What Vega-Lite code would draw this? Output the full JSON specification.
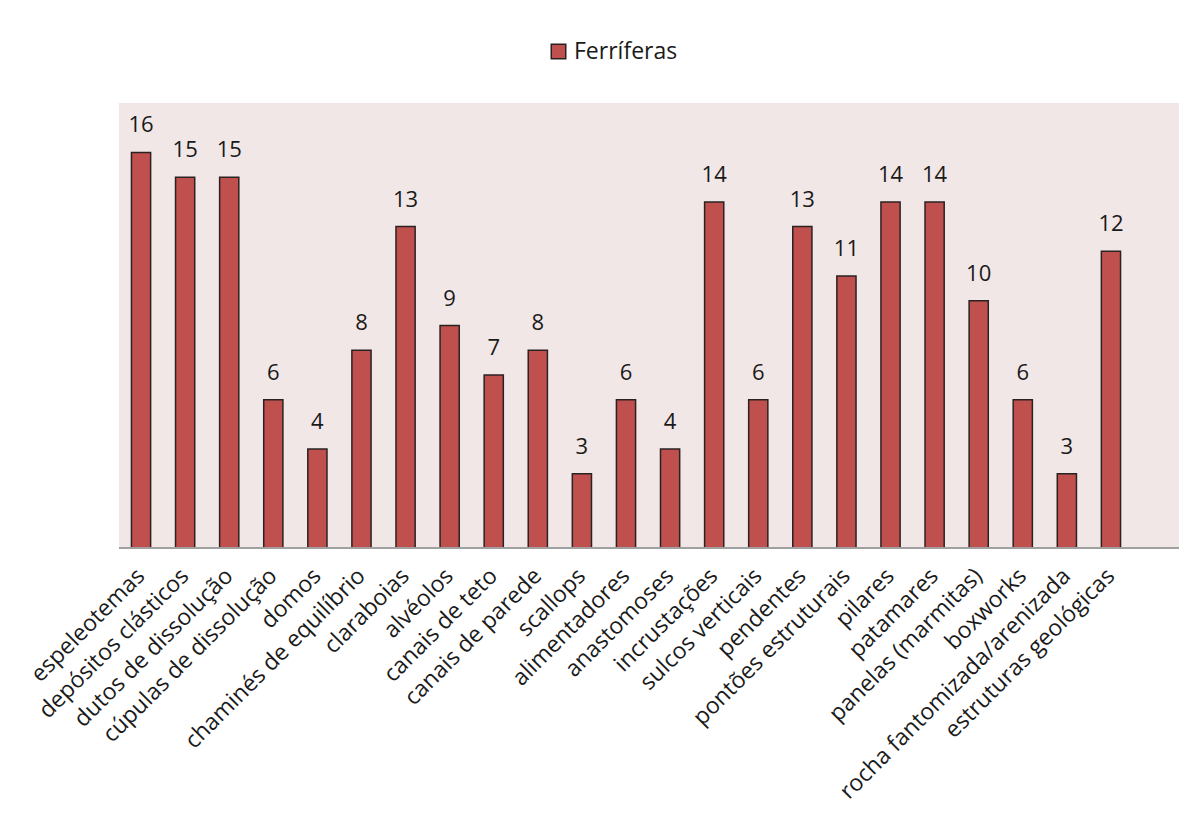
{
  "$schema": "https://vega.github.io/schema/vega-lite/v6.json",
  "width": 1060,
  "height": 445,
  "padding": {"left": 119, "top": 103, "right": 18, "bottom": 279},
  "autosize": {"type": "none"},
  "background": "white",
  "config": {
    "view": {"fill": "#f2e7e7", "stroke": null},
    "font": "Open Sans",
    "text": {"font": "Open Sans"}
  },
  "data": {
    "values": [
      {"feicao": "espeleotemas", "n": 16, "grupo": "Ferríferas"},
      {"feicao": "depósitos clásticos", "n": 15, "grupo": "Ferríferas"},
      {"feicao": "dutos de dissolução", "n": 15, "grupo": "Ferríferas"},
      {"feicao": "cúpulas de dissolução", "n": 6, "grupo": "Ferríferas"},
      {"feicao": "domos", "n": 4, "grupo": "Ferríferas"},
      {"feicao": "chaminés de equilíbrio", "n": 8, "grupo": "Ferríferas"},
      {"feicao": "claraboias", "n": 13, "grupo": "Ferríferas"},
      {"feicao": "alvéolos", "n": 9, "grupo": "Ferríferas"},
      {"feicao": "canais de teto", "n": 7, "grupo": "Ferríferas"},
      {"feicao": "canais de parede", "n": 8, "grupo": "Ferríferas"},
      {"feicao": "scallops", "n": 3, "grupo": "Ferríferas"},
      {"feicao": "alimentadores", "n": 6, "grupo": "Ferríferas"},
      {"feicao": "anastomoses", "n": 4, "grupo": "Ferríferas"},
      {"feicao": "incrustações", "n": 14, "grupo": "Ferríferas"},
      {"feicao": "sulcos verticais", "n": 6, "grupo": "Ferríferas"},
      {"feicao": "pendentes", "n": 13, "grupo": "Ferríferas"},
      {"feicao": "pontões estruturais", "n": 11, "grupo": "Ferríferas"},
      {"feicao": "pilares", "n": 14, "grupo": "Ferríferas"},
      {"feicao": "patamares", "n": 14, "grupo": "Ferríferas"},
      {"feicao": "panelas (marmitas)", "n": 10, "grupo": "Ferríferas"},
      {"feicao": "boxworks", "n": 6, "grupo": "Ferríferas"},
      {"feicao": "rocha fantomizada/arenizada", "n": 3, "grupo": "Ferríferas"},
      {"feicao": "estruturas geológicas", "n": 12, "grupo": "Ferríferas"}
    ]
  },
  "layer": [
    {
      "mark": {"type": "bar", "stroke": "#2a2222", "strokeWidth": 1.5},
      "encoding": {
        "x": {
          "field": "feicao",
          "type": "nominal",
          "sort": null,
          "scale": {"range": [0, 1014], "paddingInner": 0.565, "paddingOuter": 0.2825},
          "axis": {
            "title": null,
            "labelAngle": -45,
            "labelAlign": "right",
            "labelBaseline": "middle",
            "labelFontSize": 23,
            "labelColor": "#1a1a1a",
            "labelPadding": 24,
            "labelOverlap": false,
            "labelLimit": 500,
            "ticks": false,
            "domain": false
          }
        },
        "y": {
          "field": "n",
          "type": "quantitative",
          "scale": {"domain": [0, 18], "nice": false},
          "axis": null
        },
        "color": {
          "field": "grupo",
          "type": "nominal",
          "scale": {"range": ["#c0504d"]},
          "legend": {
            "title": null,
            "orient": "none",
            "legendX": 428,
            "legendY": -63,
            "symbolType": "square",
            "symbolSize": 210,
            "symbolStrokeColor": "#2a2222",
            "symbolStrokeWidth": 1.5,
            "labelFontSize": 23,
            "labelColor": "#1a1a1a",
            "labelFont": "Open Sans"
          }
        }
      }
    },
    {
      "mark": {"type": "text", "dy": -27, "fontSize": 22, "color": "#1a1a1a"},
      "encoding": {
        "x": {"field": "feicao", "type": "nominal", "sort": null},
        "y": {"field": "n", "type": "quantitative"},
        "text": {"field": "n", "type": "quantitative"}
      }
    },
    {
      "mark": {"type": "rule", "color": "#a0a0a0", "strokeWidth": 2},
      "encoding": {"y": {"datum": 0}}
    }
  ]
}
